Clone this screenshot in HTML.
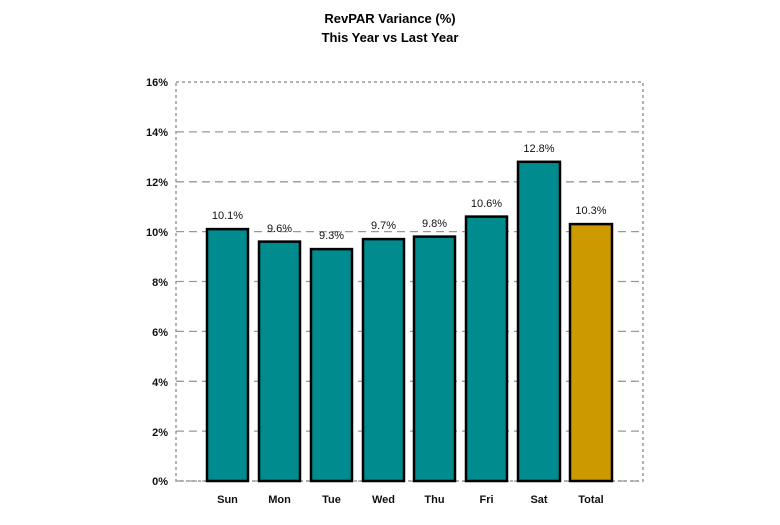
<!DOCTYPE html>
<html><head><style>body{margin:0;background:#fff}</style></head><body>
<svg width="780" height="520" xmlns="http://www.w3.org/2000/svg" font-family="Liberation Sans, Arial, sans-serif">
<text x="390" y="23" text-anchor="middle" font-size="13" font-weight="bold">RevPAR Variance (%)</text>
<text x="390" y="42" text-anchor="middle" font-size="13" font-weight="bold">This Year vs Last Year</text>
<g stroke="#999" stroke-width="1.3" stroke-dasharray="8,5">
<line x1="176" y1="131.9" x2="643" y2="131.9"/>
<line x1="176" y1="181.8" x2="643" y2="181.8"/>
<line x1="176" y1="231.6" x2="643" y2="231.6"/>
<line x1="176" y1="281.5" x2="643" y2="281.5"/>
<line x1="176" y1="331.4" x2="643" y2="331.4"/>
<line x1="176" y1="381.3" x2="643" y2="381.3"/>
<line x1="176" y1="431.1" x2="643" y2="431.1"/>
<line x1="176" y1="481" x2="643" y2="481"/>
</g>
<g stroke="#999" stroke-width="1.5" stroke-dasharray="3,3" fill="none">
<rect x="176" y="82" width="467" height="399"/>
</g>
<g font-size="11" font-weight="bold" text-anchor="end" fill="#111">
<text x="168" y="86">16%</text><text x="168" y="136">14%</text><text x="168" y="186">12%</text>
<text x="168" y="236">10%</text><text x="168" y="286">8%</text><text x="168" y="336">6%</text>
<text x="168" y="386">4%</text><text x="168" y="436">2%</text><text x="168" y="485">0%</text>
</g>
<g stroke="#000" stroke-width="2.5" fill="#008b8f">
<rect x="207" y="229.1" width="41" height="251.9"/>
<rect x="259" y="241.6" width="41" height="239.4"/>
<rect x="311" y="249.1" width="41" height="231.9"/>
<rect x="363" y="239.1" width="41" height="241.9"/>
<rect x="414" y="236.6" width="41" height="244.4"/>
<rect x="466" y="216.6" width="41" height="264.4"/>
<rect x="518" y="161.8" width="42" height="319.2"/>
<rect x="570" y="224.1" width="42" height="256.9" fill="#cc9900"/>
</g>
<g font-size="11" text-anchor="middle" fill="#111">
<text x="227.5" y="219">10.1%</text><text x="279.5" y="232">9.6%</text><text x="331.5" y="239">9.3%</text>
<text x="383.5" y="229">9.7%</text><text x="434.5" y="227">9.8%</text><text x="486.5" y="207">10.6%</text>
<text x="539" y="152">12.8%</text><text x="591" y="214">10.3%</text>
</g>
<g font-size="11" font-weight="bold" text-anchor="middle" fill="#111">
<text x="227.5" y="503">Sun</text><text x="279.5" y="503">Mon</text><text x="331.5" y="503">Tue</text>
<text x="383.5" y="503">Wed</text><text x="434.5" y="503">Thu</text><text x="486.5" y="503">Fri</text>
<text x="539" y="503">Sat</text><text x="591" y="503">Total</text>
</g>
</svg>
</body></html>
